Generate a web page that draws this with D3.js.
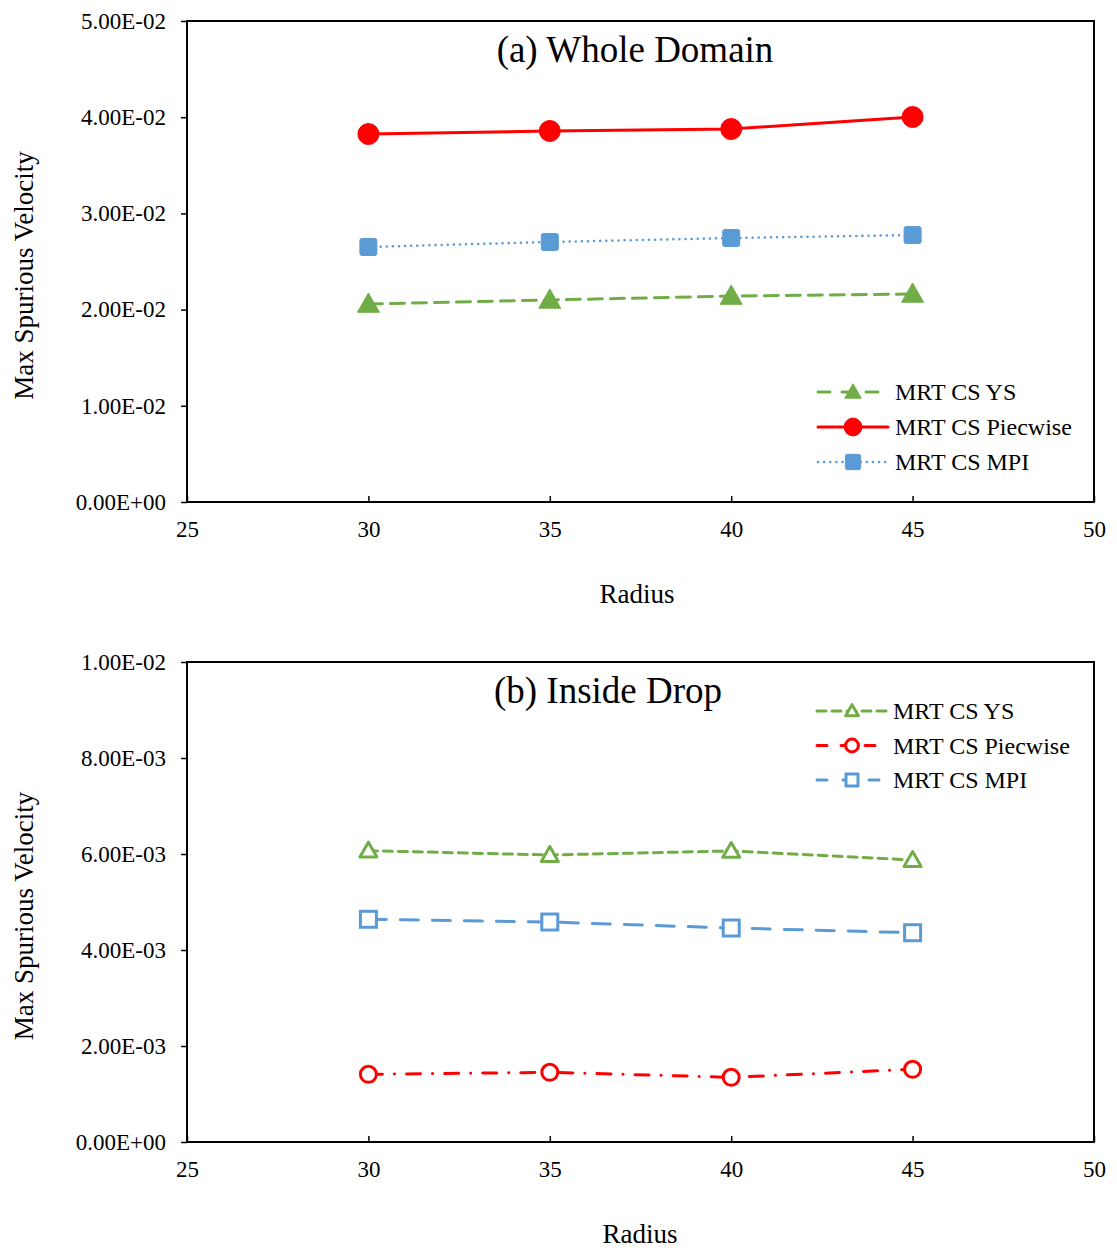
<!DOCTYPE html>
<html>
<head>
<meta charset="utf-8">
<script src="https://cdn.jsdelivr.net/npm/d3@7"></script>
<style>
  body { margin: 0; background: white; }
  text { font-family: "Liberation Serif", "Times New Roman", serif; fill: black; }
</style>
</head>
<body>
<div class="chart"></div>
<script>
// Data
const radius = [30, 35, 40, 45];
const wholeYS = [0.02058, 0.0210, 0.02141, 0.02162];
const wholePiecewise = [0.03825, 0.03857, 0.03877, 0.04002];
const wholeMPI = [0.02651, 0.02703, 0.02744, 0.02775];
const dropYS = [0.006069, 0.005979, 0.006063, 0.005875];
const dropPiecewise = [0.00141, 0.001452, 0.001348, 0.001515];
const dropMPI = [0.00464, 0.004583, 0.004458, 0.00436];
const xTicks = [25, 30, 35, 40, 45, 50];
const wholeTicks = [0, 0.01, 0.02, 0.03, 0.04, 0.05];
const dropTicks = [0, 0.002, 0.004, 0.006, 0.008, 0.01];
const legendLabels = ["MRT CS YS", "MRT CS Piecwise", "MRT CS MPI"];

const width = 1117, height = 1250;
const green = "#70AD47", red = "#FF0000", blue = "#5B9BD5";

const svg = d3.select(".chart")
  .append("svg")
  .attr("width", width)
  .attr("height", height);

function drawPanel(opts) {
  const x = d3.scaleLinear().domain([25, 50]).range([187, 1094]);
  const y = d3.scaleLinear().domain([0, opts.yMax]).range([opts.bottom, opts.top]);

  const g = svg.append("g");

  // frame
  g.append("rect")
    .attr("x", 187).attr("y", opts.top)
    .attr("width", 1094 - 187).attr("height", opts.bottom - opts.top)
    .attr("fill", "none").attr("stroke", "black").attr("stroke-width", 2);

  // y axis, ticks outward
  const yAxis = g.append("g")
    .attr("transform", "translate(187,0)")
    .call(d3.axisLeft(y).tickValues(opts.yTicks).tickSize(6).tickPadding(15)
      .tickFormat(d => d.toExponential(2).replace(/e([+-])(\d)$/, "e$10$2").toUpperCase()));
  yAxis.select(".domain").remove();
  yAxis.selectAll("line").attr("stroke", "black").attr("stroke-width", 1.5);
  yAxis.selectAll("text").style("font-size", "23px")
    .style("font-family", "'Liberation Serif', serif");

  // x axis, ticks inward
  const xAxis = g.append("g")
    .attr("transform", `translate(0,${opts.bottom})`)
    .call(d3.axisBottom(x).tickValues(xTicks).tickSize(-6).tickPadding(19));
  xAxis.select(".domain").remove();
  xAxis.selectAll("line").attr("stroke", "black").attr("stroke-width", 1.5);
  xAxis.selectAll("text").style("font-size", "23px")
    .style("font-family", "'Liberation Serif', serif");

  // titles
  g.append("text")
    .attr("x", opts.titleX).attr("y", opts.top + 41)
    .attr("text-anchor", "middle")
    .style("font-size", "37px")
    .text(opts.title);

  g.append("text")
    .attr("x", opts.xTitleX).attr("y", opts.bottom + 101)
    .attr("text-anchor", "middle")
    .style("font-size", "27px")
    .text("Radius");

  g.append("text")
    .attr("transform", `translate(33,${(opts.top + opts.bottom) / 2 + 14}) rotate(-90)`)
    .attr("text-anchor", "middle")
    .style("font-size", "27px")
    .text("Max Spurious Velocity");

  const line = d3.line().x((d, i) => x(radius[i])).y(d => y(d));

  opts.series.forEach(s => {
    g.append("path")
      .datum(s.values)
      .attr("d", line)
      .attr("fill", "none")
      .attr("stroke", s.color)
      .attr("stroke-width", s.width)
      .attr("stroke-dasharray", s.dash)
      .attr("stroke-linecap", "round");

    s.values.forEach((v, i) => drawMarker(g, s, x(radius[i]), y(v)));
  });

  // legend
  const legend = g.append("g");
  opts.series.forEach((s, i) => {
    const ly = opts.legendY + i * opts.legendStep;
    legend.append("line")
      .attr("x1", opts.legendX).attr("x2", opts.legendX + 70)
      .attr("y1", ly).attr("y2", ly)
      .attr("stroke", s.color).attr("stroke-width", s.width)
      .attr("stroke-dasharray", s.legendDash || s.dash)
      .attr("stroke-linecap", "round");
    drawMarker(legend, s, opts.legendX + 35, ly, s.legendScale);
    legend.append("text")
      .attr("x", opts.legendX + opts.textGap).attr("y", ly + 8)
      .style("font-size", "24px")
      .text(legendLabels[i]);
  });
}

function drawMarker(g, s, cx, cy, scale) {
  const k = scale || 1;
  const fill = s.filled ? s.color : "white";
  const sw = s.filled ? 1 : 3;
  if (s.marker === "circle") {
    g.append("circle").attr("cx", cx).attr("cy", cy).attr("r", s.size * k)
      .attr("fill", fill).attr("stroke", s.color).attr("stroke-width", sw);
  } else if (s.marker === "square") {
    const h = s.size * k;
    g.append("rect").attr("x", cx - h).attr("y", cy - h)
      .attr("width", 2 * h).attr("height", 2 * h).attr("rx", s.filled ? 2 : 0)
      .attr("fill", fill).attr("stroke", s.color).attr("stroke-width", sw);
  } else {
    const h = s.size * k;
    g.append("path")
      .attr("d", `M${cx},${cy - h} L${cx + h},${cy + h * 0.75} L${cx - h},${cy + h * 0.75} Z`)
      .attr("fill", fill).attr("stroke", s.color).attr("stroke-width", sw)
      .attr("stroke-linejoin", "round");
  }
}

drawPanel({
  top: 21, bottom: 502, yMax: 0.05, yTicks: wholeTicks,
  title: "(a) Whole Domain", titleX: 635, xTitleX: 637,
  legendX: 818, legendY: 392, legendStep: 35, textGap: 77,
  series: [
    { values: wholeYS, color: green, width: 3, dash: "14,8", legendDash: "12,12", marker: "triangle", filled: true, size: 11, legendScale: 0.75 },
    { values: wholePiecewise, color: red, width: 3, dash: null, marker: "circle", filled: true, size: 10.5, legendScale: 0.85 },
    { values: wholeMPI, color: blue, width: 2.5, dash: "0.1,6", marker: "square", filled: true, size: 8.5, legendScale: 0.9 }
  ]
});

drawPanel({
  top: 662, bottom: 1142, yMax: 0.01, yTicks: dropTicks,
  title: "(b) Inside Drop", titleX: 608, xTitleX: 640,
  legendX: 817, legendY: 711, legendStep: 34.5, textGap: 76,
  series: [
    { values: dropYS, color: green, width: 3, dash: "9,6", marker: "triangle", filled: false, size: 8.5, legendScale: 0.75 },
    { values: dropPiecewise, color: red, width: 3, dash: "14,12,0.1,12", legendDash: "10,14", marker: "circle", filled: false, size: 8, legendScale: 0.8 },
    { values: dropMPI, color: blue, width: 3, dash: "18,14", legendDash: "10,16", marker: "square", filled: false, size: 8, legendScale: 0.75 }
  ]
});
</script>
</body>
</html>
